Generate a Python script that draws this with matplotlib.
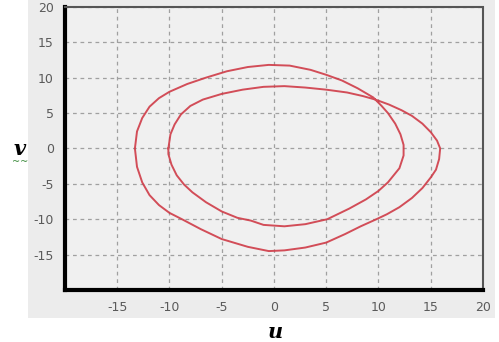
import matplotlib
matplotlib.use("Agg")
import matplotlib.pyplot as plt
from matplotlib.patches import Rectangle

# Trajectory: the closed curve winds twice round the centre
u_pts = [-10.1, -9.9, -9.5, -8.9, -8.0, -6.8, -5.0, -3.0, -1.0, 1.0, 3.0, 5.0,
         7.0, 8.5, 9.7, 11.0, 12.2, 13.2, 14.2, 15.0, 15.6, 15.9, 15.8, 15.5,
         15.0, 14.2, 13.2, 12.0, 10.8, 9.8, 8.3, 6.8, 5.0, 3.0, 1.0, -0.5,
         -2.5, -5.0, -7.0, -8.8, -10.0, -11.0, -11.9, -12.6, -13.1, -13.3,
         -13.1, -12.6, -11.9, -11.0, -10.0, -8.3, -6.5, -4.5, -2.5, -0.5, 1.5,
         3.5, 5.0, 6.5, 8.0, 9.5, 10.3, 10.9, 11.6, 12.1, 12.4, 12.4, 12.0,
         10.9, 10.0, 8.8, 7.2, 5.1, 3.0, 1.0, -1.0, -2.2, -3.5, -5.0, -6.5,
         -7.8, -8.6, -9.3, -9.8, -10.1, -10.1]
v_pts = [0.0, 2.0, 3.4, 4.8, 6.0, 6.9, 7.7, 8.3, 8.7, 8.8, 8.6, 8.3,
         7.9, 7.4, 6.9, 6.2, 5.4, 4.6, 3.5, 2.3, 1.1, 0.0, -1.5, -3.0,
         -4.1, -5.6, -7.0, -8.3, -9.3, -10.0, -11.0, -12.1, -13.3, -14.0, -14.4, -14.5,
         -13.9, -12.8, -11.4, -10.0, -9.1, -8.0, -6.6, -4.8, -2.6, 0.0,
         2.4, 4.3, 5.9, 7.1, 8.0, 9.1, 10.0, 10.9, 11.5, 11.8, 11.7,
         11.1, 10.4, 9.6, 8.5, 7.2, 6.0, 5.0, 3.5, 2.0, 0.5, -1.0, -2.8,
         -4.8, -6.0, -7.2, -8.5, -10.0, -10.7, -11.0, -10.8, -10.2, -9.8, -8.9, -7.6,
         -6.2, -5.1, -3.8, -2.3, -0.8, 0.0]

x_ticks = [-15, -10, -5, 0, 5, 10, 15, 20]
y_ticks = [-15, -10, -5, 0, 5, 10, 15, 20]

fig = plt.figure(figsize=(4.99, 3.42), dpi=100)
fig.patch.set_facecolor("white")
# grey panel behind the plot
panel = Rectangle((0.056, 0.07), 0.936, 0.93, transform=fig.transFigure,
                  facecolor="#ececec", edgecolor="none", zorder=-5)
fig.add_artist(panel)

ax = fig.add_axes([0.130, 0.152, 0.838, 0.828])
ax.set_zorder(2)
ax.set_facecolor("#f0f0f0")
ax.plot(u_pts, v_pts, color="#cf3b47", lw=1.4, alpha=0.9)

ax.set_xlim(-20, 20)
ax.set_ylim(-20, 20)
ax.set_xticks(x_ticks)
ax.set_yticks(y_ticks)
ax.set_xticklabels([str(t) for t in x_ticks])
ax.set_yticklabels([str(t) for t in y_ticks])
ax.tick_params(length=0, labelsize=9, colors="#5a5a5a", pad=8)
ax.grid(True, color="#a0a0a0", lw=0.9, linestyle=(0, (3, 3)))

for side in ["left", "bottom"]:
    ax.spines[side].set_linewidth(3)
    ax.spines[side].set_color("black")
for side in ["top", "right"]:
    ax.spines[side].set_linewidth(1.5)
    ax.spines[side].set_color("#555555")
    ax.spines[side].set_linestyle((0, (1, 1)))

fig.text(0.551, 0.03, "u", fontsize=15, family="DejaVu Serif", style="italic",
         fontweight="bold", ha="center", va="center")
fig.text(0.040, 0.565, "v", fontsize=15, family="DejaVu Serif", style="italic",
         fontweight="bold", ha="center", va="center")
fig.text(0.040, 0.525, "~~", fontsize=7, color="#3a8a3a", ha="center", va="center")

fig.savefig("out.png", dpi=100, facecolor="white")
